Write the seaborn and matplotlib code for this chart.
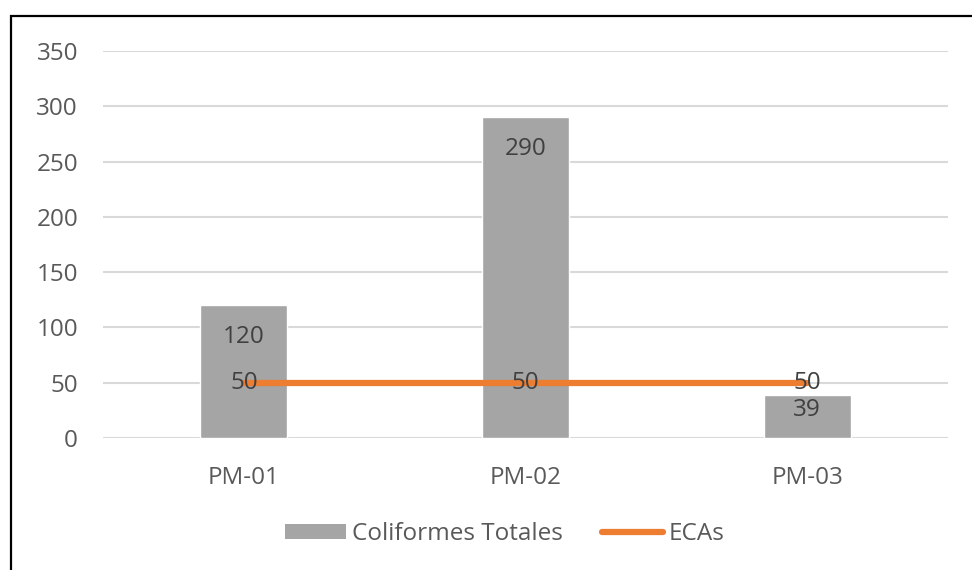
import matplotlib
matplotlib.use("Agg")
import matplotlib.pyplot as plt
import seaborn as sns
import pandas as pd
from matplotlib.patches import Patch, Rectangle
from matplotlib.lines import Line2D

# datos
puntos = ["PM-01", "PM-02", "PM-03"]
coliformes = [120, 290, 39]
ecas = [50, 50, 50]

df = pd.DataFrame({"punto": puntos, "coliformes": coliformes, "ecas": ecas})

sns.set_theme(style="white")
plt.rcParams["font.family"] = ["Open Sans", "DejaVu Sans"]

gris = "#A5A5A5"
naranja = "#ED7D31"
texto = "#595959"
fs = 17.5

fig = plt.figure(figsize=(9.72, 5.70), dpi=100)
ax = fig.add_axes([103 / 972, 1 - 438 / 570, 845 / 972, 387 / 570])

sns.barplot(data=df, x="punto", y="coliformes", color=gris, width=0.31,
            saturation=1, ax=ax, zorder=2)
sns.lineplot(data=df, x="punto", y="ecas", color=naranja, linewidth=4.5,
             ax=ax, zorder=3, solid_capstyle="round")

ax.set_xlim(-0.5, 2.5)
ax.set_ylim(0, 350)
ax.set_yticks(range(0, 351, 50))
ax.yaxis.grid(True, color="#D9D9D9", linewidth=1.5, zorder=0)
ax.set_axisbelow(True)
for s in ax.spines.values():
    s.set_visible(False)
ax.set_xlabel("")
ax.set_ylabel("")
ax.tick_params(axis="both", length=0, labelsize=fs, labelcolor=texto)
ax.tick_params(axis="y", pad=18)
ax.tick_params(axis="x", pad=20)

# etiquetas de las barras
for i, v in enumerate(coliformes):
    off = -32 if v > 60 else -15
    ax.annotate(str(v), (i, v), xytext=(0, off), textcoords="offset pixels",
                ha="center", va="center", fontsize=fs, color="#404040", zorder=4)
# etiquetas de la línea
for i, v in enumerate(ecas):
    ax.annotate(str(v), (i, v), xytext=(0, 0), textcoords="offset pixels",
                ha="center", va="center", fontsize=fs, color="#404040", zorder=4)

handles = [Patch(facecolor=gris, edgecolor="none"),
           Line2D([0], [0], color=naranja, linewidth=4.5)]
fig.legend(handles, ["Coliformes Totales", "ECAs"], loc="center",
           bbox_to_anchor=(505 / 972, 1 - 534 / 570), ncol=2, frameon=False,
           fontsize=fs, labelcolor=texto, handlelength=2.5, handleheight=0.6,
           handletextpad=0.25, columnspacing=1.6)

# marco del gráfico
fig.patches.append(Rectangle((11 / 972, -0.2), 1.2, 1.2 - 16 / 570,
                             transform=fig.transFigure, fill=False,
                             edgecolor="black", linewidth=1.6))

fig.savefig("out.png", dpi=100)
